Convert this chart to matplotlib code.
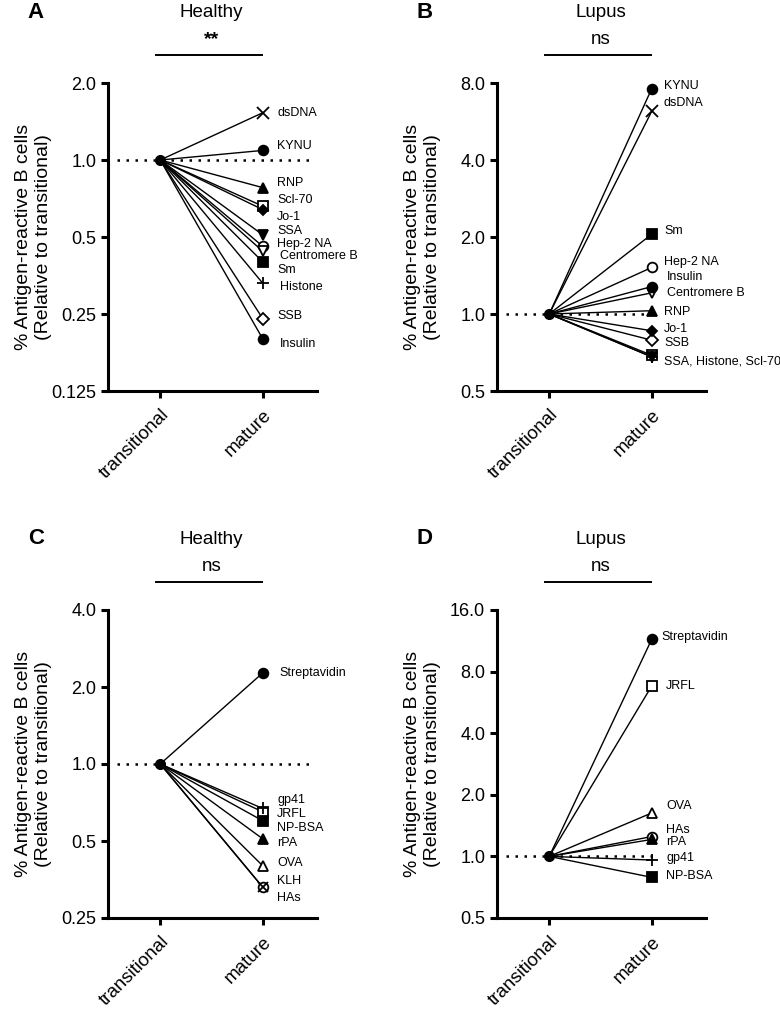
# Antigen-reactive B cells: transitional vs mature, relative to transitional
import numpy as np
import matplotlib.pyplot as plt
from matplotlib.transforms import blended_transform_factory

plt.rcParams['font.family'] = ['Liberation Sans', 'DejaVu Sans']

stages = ["transitional", "mature"]
transitional_value = 1.0

# Panel A - Healthy, autoantigens
a_names = ["dsDNA", "KYNU", "RNP", "Scl-70", "Jo-1", "SSA", "Hep-2 NA",
           "Centromere B", "Sm", "Histone", "SSB", "Insulin"]
a_mature = [1.53, 1.09, 0.78, 0.66, 0.64, 0.51, 0.46, 0.44, 0.40, 0.33, 0.24, 0.20]

# Panel B - Lupus, autoantigens
b_names = ["KYNU", "dsDNA", "Sm", "Hep-2 NA", "Insulin", "Centromere B", "RNP",
           "Jo-1", "SSB", "Scl-70", "Histone", "SSA"]
b_mature = [7.6, 6.2, 2.05, 1.52, 1.28, 1.21, 1.03, 0.86, 0.79, 0.69, 0.68, 0.68]

# Panel C - Healthy, foreign antigens
c_names = ["Streptavidin", "gp41", "JRFL", "NP-BSA", "rPA", "OVA", "HAs", "KLH"]
c_mature = [2.27, 0.67, 0.65, 0.60, 0.51, 0.40, 0.33, 0.33]

# Panel D - Lupus, foreign antigens
d_names = ["Streptavidin", "JRFL", "OVA", "HAs", "rPA", "gp41", "NP-BSA"]
d_mature = [11.5, 6.8, 1.63, 1.25, 1.21, 0.96, 0.79]

# marker style per antigen: (marker, filled, size)
styles = {
    "KYNU": ("o", True, 7), "dsDNA": ("x", True, 8), "RNP": ("^", True, 7),
    "Scl-70": ("s", False, 7), "Jo-1": ("D", True, 5), "SSA": ("v", True, 7),
    "Hep-2 NA": ("o", False, 7), "Centromere B": ("v", False, 7),
    "Sm": ("s", True, 7), "Histone": ("+", True, 8), "SSB": ("D", False, 6),
    "Insulin": ("o", True, 7), "Streptavidin": ("o", True, 7),
    "gp41": ("+", True, 8), "JRFL": ("s", False, 7), "NP-BSA": ("s", True, 7),
    "rPA": ("^", True, 7), "OVA": ("^", False, 7), "HAs": ("o", False, 7),
    "KLH": ("x", True, 7),
}

# text labels next to the mature points (label text, y position, x position)
a_labels = [("dsDNA", 1.53, 1.14), ("KYNU", 1.13, 1.14), ("RNP", 0.81, 1.14),
            ("Scl-70", 0.70, 1.14), ("Jo-1", 0.60, 1.14), ("SSA", 0.53, 1.14),
            ("Hep-2 NA", 0.47, 1.14), ("Centromere B", 0.42, 1.17),
            ("Sm", 0.37, 1.14), ("Histone", 0.32, 1.17), ("SSB", 0.245, 1.14),
            ("Insulin", 0.19, 1.17)]
b_labels = [("KYNU", 7.8, 1.12), ("dsDNA", 6.7, 1.12), ("Sm", 2.12, 1.12),
            ("Hep-2 NA", 1.59, 1.12), ("Insulin", 1.39, 1.15),
            ("Centromere B", 1.21, 1.15), ("RNP", 1.02, 1.12), ("Jo-1", 0.87, 1.12),
            ("SSB", 0.77, 1.12), ("SSA, Histone, Scl-70", 0.65, 1.12)]
c_labels = [("Streptavidin", 2.27, 1.16), ("gp41", 0.72, 1.14), ("JRFL", 0.64, 1.14),
            ("NP-BSA", 0.56, 1.14), ("rPA", 0.49, 1.14), ("OVA", 0.41, 1.14),
            ("KLH", 0.35, 1.14), ("HAs", 0.30, 1.14)]
d_labels = [("Streptavidin", 11.8, 1.09), ("JRFL", 6.8, 1.14), ("OVA", 1.77, 1.14),
            ("HAs", 1.35, 1.14), ("rPA", 1.17, 1.14), ("gp41", 0.98, 1.14),
            ("NP-BSA", 0.80, 1.14)]


def draw_panel(ax, names, mature, labels, yticks, title, sig, dot_end, letter):
    x = np.arange(len(stages))
    for name, v in zip(names, mature):
        ax.plot(x, [transitional_value, v], color="black", lw=1.0, zorder=2)
    for name, v in zip(names, mature):
        m, filled, ms = styles[name]
        face = "black" if filled else "white"
        ax.plot([x[1]], [v], linestyle="none", marker=m, ms=ms, mfc=face,
                mec="black", mew=1.3, zorder=3 if not filled else 4)
    ax.plot([x[0]], [transitional_value], "o", color="black", ms=7, zorder=5)
    ax.plot([-0.42, dot_end], [1.0, 1.0], color="black", lw=1.8,
            linestyle=(0, (1, 2.6)), zorder=1)

    for text, ly, lx in labels:
        ax.text(lx, ly, text, fontsize=9, ha="left", va="center")

    ax.set_yscale("log", base=2)
    ax.set_ylim(yticks[0], yticks[-1])
    ax.set_yticks(yticks)
    ax.set_yticklabels(["0.125" if t == 0.125 else ("%.2f" % t if t == 0.25 else "%.1f" % t)
                        for t in yticks])
    ax.minorticks_off()
    ax.set_xlim(-0.51, 1.53)
    ax.set_xticks(x)
    ax.set_xticklabels(stages, rotation=45, ha="right", rotation_mode="anchor")

    for s in ["top", "right"]:
        ax.spines[s].set_visible(False)
    for s in ["left", "bottom"]:
        ax.spines[s].set_linewidth(2.2)
    ax.tick_params(axis="both", width=2.2, length=5)
    ax.tick_params(axis="x", labelsize=13.5, pad=6)
    ax.tick_params(axis="y", labelsize=13)

    ax.set_ylabel("% Antigen-reactive B cells\n(Relative to transitional)", fontsize=14)
    ax.yaxis.set_label_coords(-0.27, 0.5)

    tr = blended_transform_factory(ax.transData, ax.transAxes)
    ax.plot([-0.04, 0.99], [1.09, 1.09], color="black", lw=1.4,
            transform=tr, clip_on=False)
    ax.text(0.5, 1.14, sig, transform=tr, ha="center", va="center",
            fontsize=13.5 if sig == "ns" else 14,
            fontweight="normal" if sig == "ns" else "bold")
    ax.text(0.5, 1.23, title, transform=tr, ha="center", va="center", fontsize=13.5)

    bb = ax.get_position()
    fig.text(bb.x0 - 72 / 780, bb.y1 + 71 / 1014, letter, fontsize=16,
             fontweight="bold", ha="center", va="center")


fig = plt.figure(figsize=(7.8, 10.14), dpi=100)
w, h = 209 / 780, 308 / 1014
ax_a = fig.add_axes([108 / 780, 1 - 391 / 1014, w, h])
ax_b = fig.add_axes([497 / 780, 1 - 391 / 1014, w, h])
ax_c = fig.add_axes([108 / 780, 1 - 918 / 1014, w, h])
ax_d = fig.add_axes([497 / 780, 1 - 918 / 1014, w, h])

draw_panel(ax_a, a_names, a_mature, a_labels, [0.125, 0.25, 0.5, 1.0, 2.0],
           "Healthy", "**", 1.49, "A")
draw_panel(ax_b, b_names, b_mature, b_labels, [0.5, 1.0, 2.0, 4.0, 8.0],
           "Lupus", "ns", 1.03, "B")
draw_panel(ax_c, c_names, c_mature, c_labels, [0.25, 0.5, 1.0, 2.0, 4.0],
           "Healthy", "ns", 1.51, "C")
draw_panel(ax_d, d_names, d_mature, d_labels, [0.5, 1.0, 2.0, 4.0, 8.0, 16.0],
           "Lupus", "ns", 1.07, "D")

fig.savefig("out.png", dpi=100)
